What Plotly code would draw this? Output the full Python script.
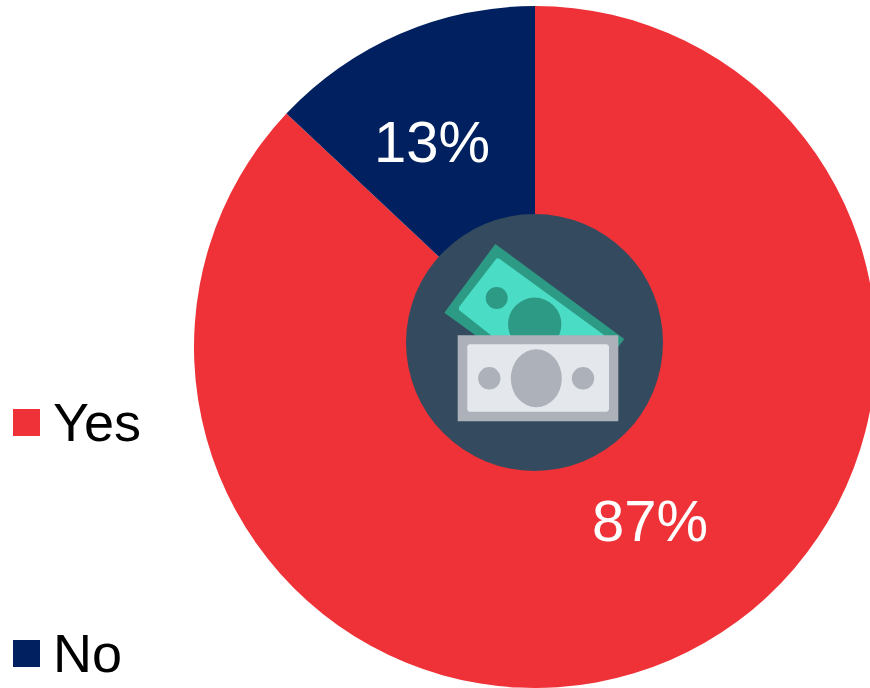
import plotly.graph_objects as go

# Survey split
categories = ["Yes", "No"]
values = [87, 13]
colors = ["#EF3237", "#00205F"]

# Canvas runs slightly wider than the window so the pie bleeds off the right edge
W, H = 880, 688
FONT = "Liberation Sans, Arial, sans-serif"


def px(x):
    return x / W


def py(y):
    return 1 - y / H


def ellipse(cx, cy, rx, ry, color):
    return dict(type="circle", xref="paper", yref="paper", x0=px(cx - rx), x1=px(cx + rx),
                y0=py(cy - ry), y1=py(cy + ry), fillcolor=color, line=dict(width=0))


def polygon(points, color):
    path = "M " + " L ".join(f"{px(x):.5f},{py(y):.5f}" for x, y in points) + " Z"
    return dict(type="path", xref="paper", yref="paper", path=path, fillcolor=color, line=dict(width=0))


def box(x0, y0, x1, y1, color):
    return dict(type="rect", xref="paper", yref="paper", x0=px(x0), x1=px(x1),
                y0=py(y0), y1=py(y1), fillcolor=color, line=dict(width=0))


# Banknote badge in the middle of the pie
NAVY, TEAL, MINT, STEEL, PAPER_NOTE = "#344B5F", "#2D9A85", "#4BDCC6", "#ADB2BA", "#E4E7EC"
shapes = [
    ellipse(534.5, 342.5, 128.5, 128.5, NAVY),
    polygon([(495.3, 244), (444.3, 312.7), (500, 353), (618, 347), (624.3, 339)], TEAL),
    polygon([(496.5, 258.5), (499, 258.5), (604, 335), (604, 340), (497, 340), (459, 310), (459, 307)], MINT),
    ellipse(496.7, 298, 11, 11, TEAL),
    ellipse(534.7, 324.3, 26.7, 26.7, TEAL),
    box(457.7, 335.3, 618.3, 421.3, STEEL),
    polygon([(469, 344.3), (607, 344.3), (609, 346.3), (609, 409.7), (607, 411.7),
             (469, 411.7), (467.3, 409.7), (467.3, 346.3)], PAPER_NOTE),
    ellipse(536.3, 378.3, 25.5, 29, STEEL),
    ellipse(489.3, 378.3, 11.2, 11.2, STEEL),
    ellipse(583, 378.3, 11.2, 11.2, STEEL),
]

# Hand-placed key on the left, same swatch size for both entries
key_rows = [423, 654]
annotations = []
for name, color, yc in zip(categories, colors, key_rows):
    shapes.append(box(13, yc - 14, 40, yc + 13, color))
    annotations.append(dict(text=name, xref="paper", yref="paper", x=px(51), y=py(yc - 1), xanchor="left",
                            yanchor="middle", showarrow=False, font=dict(family=FONT, size=54, color="#000000")))

# Percent labels sit on the slices
label_spots = [(650, 520), (432, 141)]
for v, (lx, ly) in zip(values, label_spots):
    annotations.append(dict(text=f"{v}%", xref="paper", yref="paper", x=px(lx), y=py(ly), xanchor="center",
                            yanchor="middle", showarrow=False, font=dict(family=FONT, size=58, color="#FFFFFF")))

fig = go.Figure(go.Pie(
    labels=categories,
    values=values,
    sort=False,
    direction="clockwise",
    rotation=0,
    marker=dict(colors=colors, line=dict(width=0)),
    textinfo="none",
    domain=dict(x=[px(194), px(876)], y=[0, py(6)]),
    showlegend=False,
))
fig.update_layout(
    width=W,
    height=H,
    autosize=False,
    margin=dict(l=0, r=0, t=0, b=0),
    paper_bgcolor="#FFFFFF",
    shapes=shapes,
    annotations=annotations,
)
fig.write_html(
    "out.html",
    post_script="document.documentElement.style.overflow='hidden';document.body.style.overflow='hidden';",
)
